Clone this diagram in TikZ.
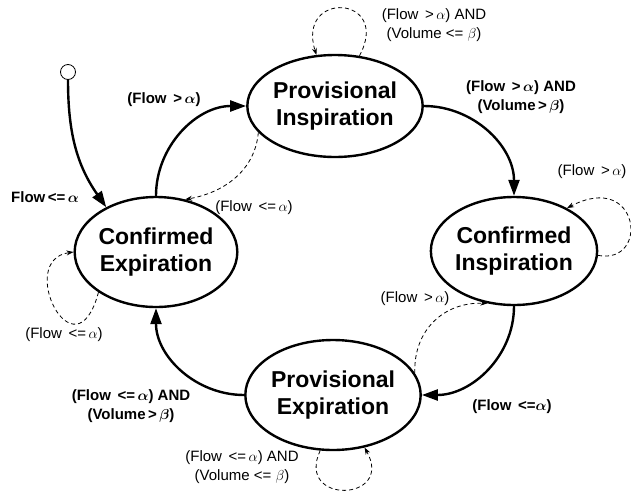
\documentclass[tikz,border=0pt]{standalone}
\usepackage{fontspec}
\setmainfont{Liberation Sans}
\usetikzlibrary{shapes.geometric, arrows.meta}

\begin{document}
\begin{tikzpicture}[x=1pt, y=-1pt,
  state/.style={ellipse, draw=black, line width=2.4pt, inner sep=0pt, align=center, font=\fontsize{23}{27}\selectfont\bfseries},
  startdot/.style={circle, draw=black, line width=0.8pt, fill=white, minimum size=15pt, inner sep=0pt},
  arrow/.style={-{Triangle[length=16pt, width=11pt]}, line width=2.4pt},
  dasharrow/.style={-{Stealth[length=7pt, width=5pt]}, dash pattern=on 4pt off 3pt, line width=0.8pt},
  cond/.style={align=center, font=\fontsize{15}{19}\selectfont\bfseries\boldmath},
  selfcond/.style={align=center, font=\fontsize{15}{19}\selectfont}
]
  \useasboundingbox (0,0) rectangle (631,493);

  \node[startdot] (start) at (68,72) {};
  \node[state, minimum width=164pt, minimum height=102pt] (provinsp) at (335,106) {Provisional\\Inspiration};
  \node[state, minimum width=162pt, minimum height=110pt] (confexp) at (156,252) {Confirmed\\Expiration};
  \node[state, minimum width=162pt, minimum height=108pt] (confinsp) at (514,251) {Confirmed\\Inspiration};
  \node[state, minimum width=160pt, minimum height=110pt] (provexp) at (333,395) {Provisional\\Expiration};

  \draw[arrow] (start.south) to[out=-90, in=125] (confexp.138);
  \draw[arrow] (confexp.90) to[out=90, in=180] (provinsp.180);
  \draw[arrow] (provinsp.0) to[out=0, in=90] (confinsp.90);
  \draw[arrow] (confinsp.-90) to[out=-90, in=0] (provexp.0);
  \draw[arrow] (provexp.180) to[out=180, in=-90] (confexp.-90);

  \draw[dasharrow] (provinsp.64) .. controls (392,-5) and (296,-10) .. (provinsp.110);
  \draw[dasharrow] (provinsp.199) to[out=-95, in=10] (confexp.61);
  \draw[dasharrow] (confinsp.-3) .. controls (650,265) and (640,170) .. (confinsp.39);
  \draw[dasharrow] (provexp.15) to[out=92, in=178, looseness=1.1] (confinsp.243);
  \draw[dasharrow] (provexp.-103) .. controls (295,505) and (395,502) .. (provexp.-59);
  \draw[dasharrow] (confexp.-145) .. controls (75,380) and (15,260) .. (confexp.180);

  \node[cond] (lblstart) at (45,197) {Flow\,<=\,$\alpha$};
  \node[cond] (lblup) at (164,100) {(Flow \,>\,$\alpha$)};
  \node[cond] (lblright) at (521,97) {(Flow \,>\,$\alpha$) AND\\(Volume\,>\,$\beta$)};
  \node[cond] (lbldown) at (512,407) {(Flow \,<=$\alpha$)};
  \node[cond] (lblleft) at (131,406) {(Flow \,<=\,$\alpha$) AND\\(Volume\,>\,$\beta$)};
  \node[selfcond] (lblpiloop) at (434,25) {(Flow \,>\,$\alpha$) AND\\(Volume <= $\beta$)};
  \node[selfcond] (lblback) at (254,208) {(Flow \,<=\,$\alpha$)};
  \node[selfcond] (lblciloop) at (592,172) {(Flow \,>\,$\alpha$)};
  \node[selfcond] (lblretry) at (415,299) {(Flow \,>\,$\alpha$)};
  \node[selfcond] (lblpeloop) at (242,467) {(Flow \,<=\,$\alpha$) AND\\(Volume <= $\beta$)};
  \node[selfcond] (lblceloop) at (64,335) {(Flow \,<=\,$\alpha$)};
\end{tikzpicture}
\end{document}
